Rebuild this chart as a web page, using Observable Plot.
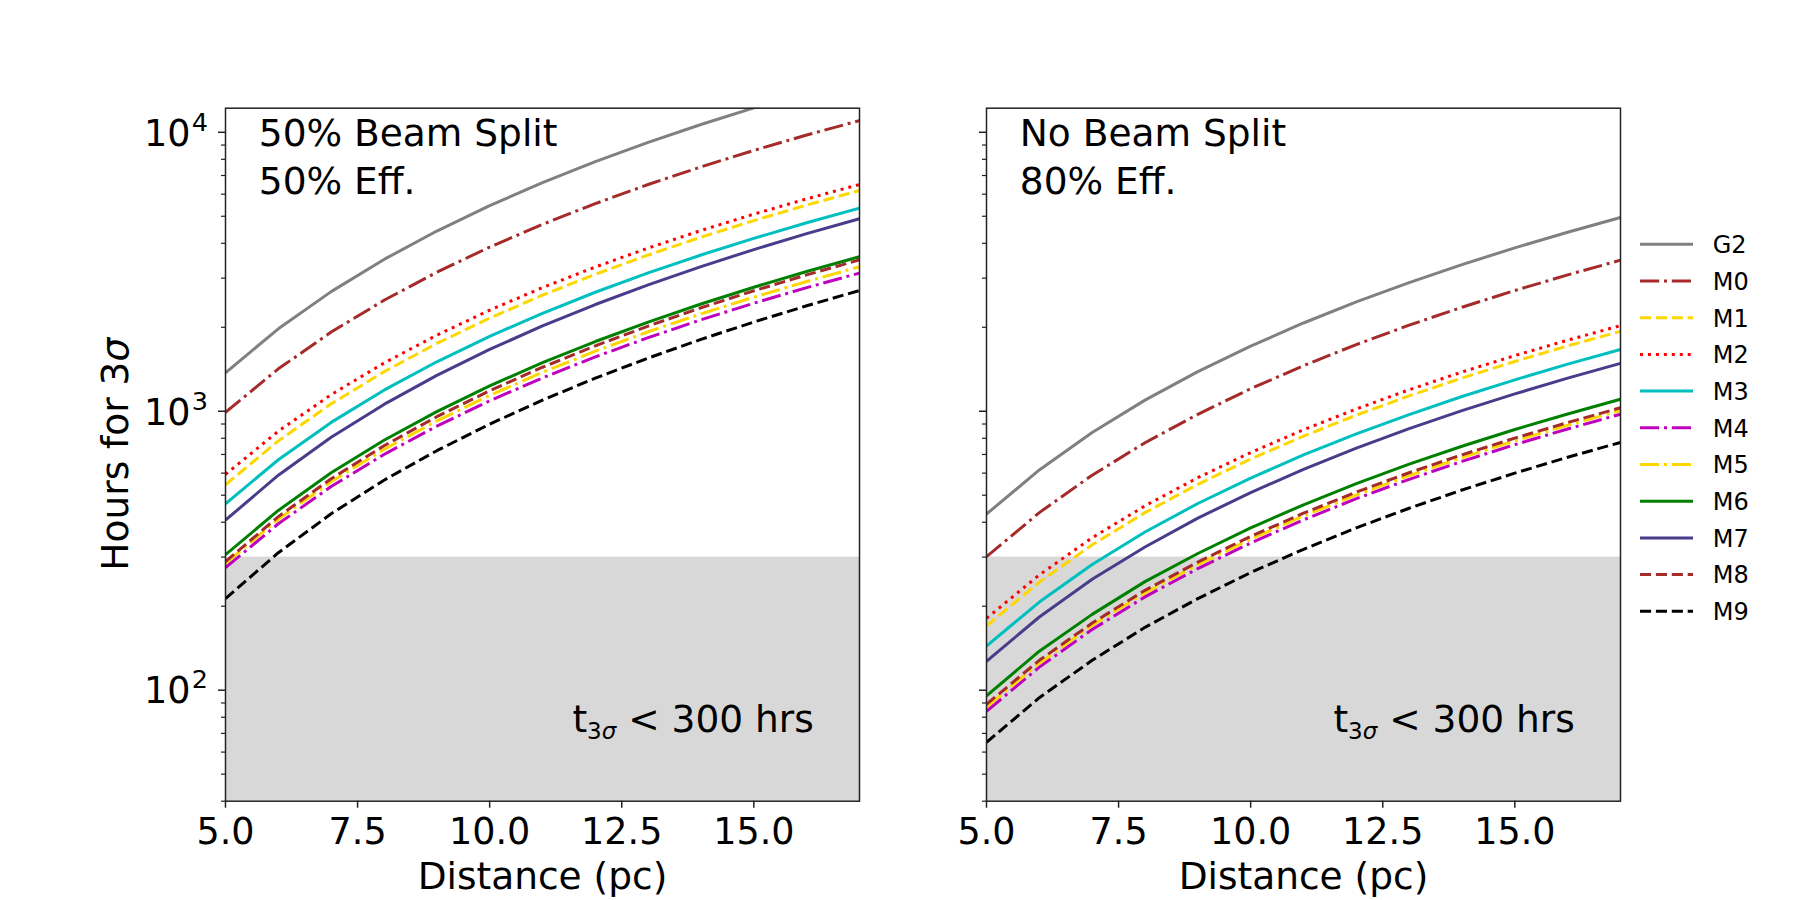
<!DOCTYPE html>
<html>
<head>
<meta charset="utf-8">
<script src="https://cdn.jsdelivr.net/npm/d3@7"></script>
<script src="https://cdn.jsdelivr.net/npm/@observablehq/plot@0.6"></script>
<style>
  body { margin: 0; background: #fff; }
  #figure { position: relative; width: 1800px; height: 900px; background: #fff; font-family: "DejaVu Sans", sans-serif; }
  #figure > svg { position: absolute; top: 0; }
</style>
</head>
<body>
<div id="figure"></div>
<script>
// Distance grid (pc) shared by every curve
const distances = [5, 6, 7, 8, 9, 10, 11, 12, 13, 14, 15, 16, 17];

// Stellar types, in legend / drawing order
const seriesNames = ["G2", "M0", "M1", "M2", "M3", "M4", "M5", "M6", "M7", "M8", "M9"];

// Hours for a 3-sigma detection — 50% beam split, 50% efficiency
const split_G2 = [1374, 1975, 2684, 3501, 4426, 5458, 6598, 7845, 9200, 10662, 12231, 13907, 15690];
const split_M0 = [991, 1419, 1922, 2499, 3151, 3877, 4677, 5550, 6497, 7518, 8611, 9777, 11016];
const split_M1 = [545, 783, 1063, 1385, 1750, 2157, 2607, 3098, 3632, 4207, 4825, 5484, 6186];
const split_M2 = [594, 848, 1147, 1489, 1874, 2303, 2775, 3289, 3846, 4446, 5088, 5772, 6499];
const split_M3 = [466, 670, 912, 1190, 1504, 1856, 2245, 2670, 3132, 3631, 4166, 4739, 5348];
const split_M4 = [275, 395, 537, 700, 884, 1090, 1317, 1566, 1836, 2127, 2440, 2774, 3129];
const split_M5 = [285, 410, 559, 730, 923, 1140, 1379, 1642, 1927, 2234, 2565, 2918, 3295];
const split_M6 = [306, 441, 602, 787, 997, 1233, 1493, 1778, 2088, 2424, 2784, 3170, 3581];
const split_M7 = [407, 590, 807, 1058, 1345, 1666, 2022, 2413, 2839, 3301, 3798, 4331, 4899];
const split_M8 = [289, 419, 573, 752, 956, 1184, 1438, 1716, 2020, 2349, 2703, 3082, 3487];
const split_M9 = [213, 311, 429, 566, 722, 899, 1096, 1314, 1551, 1810, 2088, 2388, 2709];

// Hours for a 3-sigma detection — no beam split, 80% efficiency
const noSplit_G2 = [428, 616, 839, 1096, 1387, 1712, 2072, 2465, 2893, 3355, 3852, 4383, 4948];
const noSplit_M0 = [301, 433, 590, 771, 975, 1204, 1457, 1734, 2035, 2360, 2709, 3082, 3480];
const noSplit_M1 = [170, 244, 332, 433, 547, 674, 814, 968, 1135, 1315, 1508, 1715, 1934];
const noSplit_M2 = [181, 259, 352, 458, 578, 711, 858, 1019, 1194, 1382, 1583, 1798, 2027];
const noSplit_M3 = [144, 207, 282, 369, 467, 576, 697, 829, 973, 1129, 1296, 1475, 1665];
const noSplit_M4 = [84, 121, 165, 216, 273, 337, 408, 486, 570, 661, 759, 864, 976];
const noSplit_M5 = [87, 125, 171, 223, 282, 348, 421, 501, 588, 682, 783, 891, 1006];
const noSplit_M6 = [95.5, 138, 187, 245, 309, 382, 462, 550, 646, 749, 860, 978, 1104];
const noSplit_M7 = [127, 183, 250, 326, 414, 511, 619, 737, 866, 1005, 1154, 1314, 1484];
const noSplit_M8 = [89, 128, 174, 228, 288, 356, 431, 513, 602, 698, 801, 911, 1029];
const noSplit_M9 = [65, 94, 128, 168, 213, 264, 320, 382, 449, 522, 600, 684, 773];

// Observing-time limit shaded in both panels
const limitHours = 300;

// Axis ticks and labels
const xDomain = [5, 17];
const yDomain = [40, 12200];
const xTicks = [5, 7.5, 10, 12.5, 15];
const yMajor = [100, 1000, 10000];
const yExponents = ["2", "3", "4"];
const yMinor = [40, 50, 60, 70, 80, 90, 200, 300, 400, 500, 600, 700, 800, 900,
                2000, 3000, 4000, 5000, 6000, 7000, 8000, 9000];
const xLabel = "Distance (pc)";
const yLabel = "Hours for 3σ";
const panelNotes = ["50% Beam Split\n50% Eff.", "No Beam Split\n80% Eff."];
const limitNote = `t3σ < ${limitHours} hrs`;

// Line styles (stroke colour and dash pattern per type)
const LW = 3;
const dashed = [3.7 * LW, 1.6 * LW].join(",");
const dashdot = [6.4 * LW, 1.6 * LW, 1 * LW, 1.6 * LW].join(",");
const dotted = [1 * LW, 1.65 * LW].join(",");
const seriesColors = ["#808080", "#a52a2a", "#ffd700", "#ff0000", "#00bfbf", "#bf00bf",
                      "#ffd700", "#008000", "#483d8b", "#a52a2a", "#000000"];
const seriesDashes = [null, dashdot, dashed, dotted, null, dashdot, dashdot, null, null, dashed, dashed];

const splitValues = [split_G2, split_M0, split_M1, split_M2, split_M3, split_M4, split_M5, split_M6, split_M7, split_M8, split_M9];
const noSplitValues = [noSplit_G2, noSplit_M0, noSplit_M1, noSplit_M2, noSplit_M3, noSplit_M4, noSplit_M5, noSplit_M6, noSplit_M7, noSplit_M8, noSplit_M9];

const TICK_FONT = 36.5;
const FONT = 37.5;
const ink = "#222";

function panel({values, note, marginLeft, marginRight, left, withYLabels}) {
  const marks = [
    Plot.rect([limitHours], {x1: xDomain[0], x2: xDomain[1], y1: yDomain[0], y2: d => d, fill: "#d8d8d8"}),
    ...seriesNames.map((name, i) => Plot.line(
      distances.map((d, j) => ({d, t: values[i][j]})),
      {x: "d", y: "t", stroke: seriesColors[i], strokeWidth: LW,
       strokeDasharray: seriesDashes[i] ?? undefined, strokeLinecap: "butt",
       strokeLinejoin: "round", clip: true}
    )),
    Plot.axisX({ticks: xTicks, tickFormat: d3.format(".1f"), tickSize: 7, tickPadding: 10,
                label: null, stroke: ink, strokeWidth: 1.5, fill: "#000", fontSize: TICK_FONT}),
    Plot.axisY({ticks: yMajor, tickSize: 7, tickFormat: () => "", label: null, stroke: ink, strokeWidth: 1.5}),
    Plot.axisY({ticks: yMinor, tickSize: 4, tickFormat: () => "", label: null, stroke: ink, strokeWidth: 1.2}),
    Plot.frame({stroke: ink, strokeWidth: 1.5}),
    Plot.text([note], {frameAnchor: "top-left", text: d => d, textAnchor: "start", lineAnchor: "bottom",
                       lineHeight: 48.3 / FONT, dx: 33.3, dy: 85.6, fontSize: FONT, fill: "#000"}),
    Plot.text([limitNote], {frameAnchor: "bottom-right", text: d => d, textAnchor: "end", lineAnchor: "bottom",
                            dx: -45.7, dy: -69, fontSize: FONT, fill: "#000"}),
    Plot.text([xLabel], {frameAnchor: "bottom", text: d => d, lineAnchor: "bottom", dy: 87.6, fontSize: FONT, fill: "#000"})
  ];
  if (withYLabels) {
    marks.push(
      Plot.text(yMajor, {frameAnchor: "left", y: d => d, text: () => "10", textAnchor: "end", lineAnchor: "bottom",
                         dx: -35, dy: 13.3, fontSize: TICK_FONT, fill: "#000"}),
      Plot.text(yMajor, {frameAnchor: "left", y: d => d, text: (d, i) => yExponents[i], textAnchor: "end",
                         lineAnchor: "bottom", dx: -17.5, dy: -1.7, fontSize: 25.5, fill: "#000"}),
      Plot.text([yLabel], {frameAnchor: "left", text: d => d, rotate: -90, textAnchor: "start", lineAnchor: "bottom",
                           dx: -98, dy: 116, fontSize: FONT, fill: "#000"})
    );
  }
  const svg = Plot.plot({
    width: 900, height: 900,
    marginLeft, marginRight, marginTop: 107.7, marginBottom: 99.3,
    x: {domain: xDomain},
    y: {type: "log", domain: yDomain},
    style: {fontFamily: "DejaVu Sans", fontSize: FONT + "px", background: "transparent", color: "#000", overflow: "visible"},
    marks
  });
  svg.style.left = left + "px";
  richText(svg);
  return svg;
}

// Rebuild the sigma subscript and italic sigma as tspans
function richText(svg) {
  for (const t of svg.querySelectorAll("text")) {
    const s = t.textContent;
    if (s === limitNote) {
      const sel = d3.select(t).text(null);
      sel.append("tspan").text("t");
      sel.append("tspan").attr("dy", 6.5).attr("font-size", 23).text("3");
      sel.append("tspan").attr("font-size", 23).attr("font-style", "italic").text("σ");
      sel.append("tspan").attr("dy", -6.5).text(` < ${limitHours} hrs`);
    } else if (s === yLabel) {
      const sel = d3.select(t).text(null);
      sel.append("tspan").text("Hours for 3");
      sel.append("tspan").attr("font-style", "italic").text("σ");
    }
  }
}

const fig = document.getElementById("figure");
fig.appendChild(panel({values: splitValues, note: panelNotes[0], marginLeft: 225, marginRight: 41, left: 0, withYLabels: true}));
fig.appendChild(panel({values: noSplitValues, note: panelNotes[1], marginLeft: 86, marginRight: 180, left: 900, withYLabels: false}));

// Legend to the right of the second panel
const legend = d3.select(fig).append("svg")
  .attr("width", 1800).attr("height", 900)
  .style("left", "0px").style("pointer-events", "none");
const rows = legend.selectAll("g").data(seriesNames).join("g")
  .attr("transform", (d, i) => `translate(0, ${244.3 + i * 36.7})`);
rows.append("line")
  .attr("x1", 1640).attr("x2", 1693).attr("y1", 0).attr("y2", 0)
  .attr("stroke", (d, i) => seriesColors[i]).attr("stroke-width", LW)
  .attr("stroke-dasharray", (d, i) => seriesDashes[i])
  .attr("stroke-linecap", "butt");
rows.append("text")
  .attr("x", 1712.7).attr("y", 8.8)
  .attr("font-family", "DejaVu Sans").attr("font-size", 24).attr("fill", "#000")
  .text(d => d);
</script>
</body>
</html>
